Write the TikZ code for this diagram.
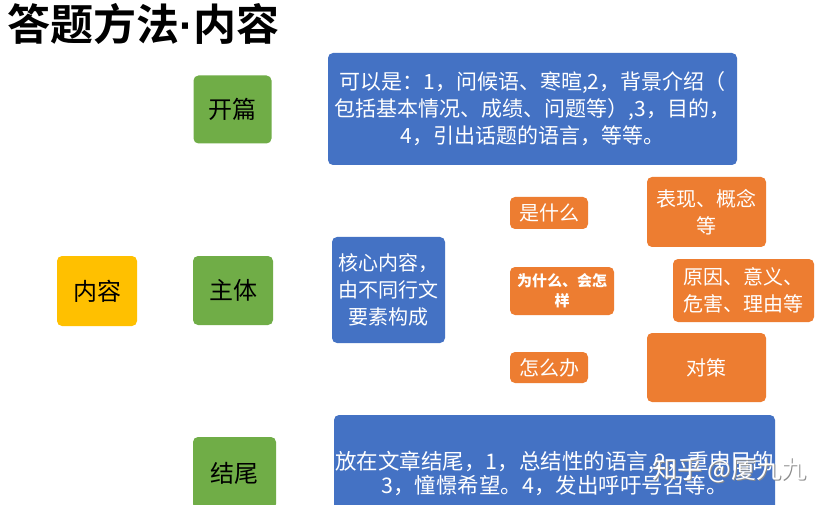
\documentclass[tikz,border=0pt]{standalone}
\usepackage{fontspec}
\setmainfont{Noto Sans CJK SC}
\newfontfamily\titlefont{Noto Sans CJK SC Bold}
\newfontfamily\dotfont{Liberation Sans Bold}
\usepackage{tikz}

\definecolor{grn}{HTML}{70AD47}
\definecolor{ylw}{HTML}{FFC000}
\definecolor{blu}{HTML}{4472C4}
\definecolor{org}{HTML}{ED7D31}

\tikzset{
	box/.style={rounded corners=5pt, inner sep=0pt, align=center, font=\fontsize{20}{27}\selectfont},
	partbox/.style={box, fill=grn, text=black, font=\fontsize{24}{28}\selectfont},
	keybox/.style={box, fill=ylw, text=black, font=\fontsize{24}{28}\selectfont},
	infobox/.style={box, fill=blu, text=white},
	askbox/.style={box, fill=org, text=white},
	marktext/.style={anchor=west, inner sep=0pt, font=\fontsize{25}{27}\selectfont}
}

\begin{document}
\begin{tikzpicture}[x=1pt, y=-1pt]
		\useasboundingbox (0,0) rectangle (830,505);
		\clip (0,0) rectangle (830,505);
		\fill [white] (0,0) rectangle (830,505);
		\node[anchor=west, inner sep=0pt] (title) at (7,24)
		{\titlefont\fontsize{43}{45}\selectfont 答题方法{\dotfont ·}内容};
		% left column
		\node[keybox, minimum width=80, minimum height=70] (neirong) at (97,291) {内容};
		\node[partbox, minimum width=78, minimum height=68] (kaipian) at (232.5,109.5) {开篇};
		\node[partbox, minimum width=80, minimum height=69] (zhuti) at (233,290.5) {主体};
		\node[partbox, minimum width=83, minimum height=72] (jiewei) at (234.5,473) {结尾};
		% blue boxes
		\node[infobox, minimum width=409, minimum height=112, font=\fontsize{21}{27}\selectfont] (kaitou) at (532.5,109)
		{可以是：1，问候语、寒暄,2，背景介绍（\\ 包括基本情况、成绩、问题等）,3，目的，\\ 4，引出话题的语言，等等。};
		\node[infobox, minimum width=113, minimum height=106] (hexin) at (388.5,290)
		{核心内容，\\ 由不同行文\\ 要素构成};
		\node[infobox, minimum width=441, minimum height=117, font=\fontsize{21.5}{24}\selectfont] (jiewei text) at (554.5,473.5)
		{放在文章结尾，1，总结性的语言,2，重申目的\\ 3，憧憬希望。4，发出呼吁号召等。};
		% orange boxes
		\node[askbox, minimum width=78, minimum height=32] (shi) at (549,213) {是什么};
		\node[askbox, minimum width=104, minimum height=48, font=\fontsize{15}{20}\selectfont\bfseries] (wei) at (562,291) {为什么、会怎\\ 样};
		\node[askbox, minimum width=78, minimum height=31] (zen) at (549,367.5) {怎么办};
		\node[askbox, minimum width=119, minimum height=70] (biaoxian) at (706.5,212) {表现、概念\\ 等};
		\node[askbox, minimum width=141, minimum height=63] (yuanyin) at (743.5,290.5) {原因、意义、\\ 危害、理由等};
		\node[askbox, minimum width=119, minimum height=69] (duice) at (706.5,367.5) {对策};
		% watermark
		\node[marktext, text=black!45] (mark shadow) at (653,471) {知乎 @厦九九};
		\node[marktext, text=white] (mark) at (652,470) {知乎 @厦九九};
	\end{tikzpicture}
\end{document}
